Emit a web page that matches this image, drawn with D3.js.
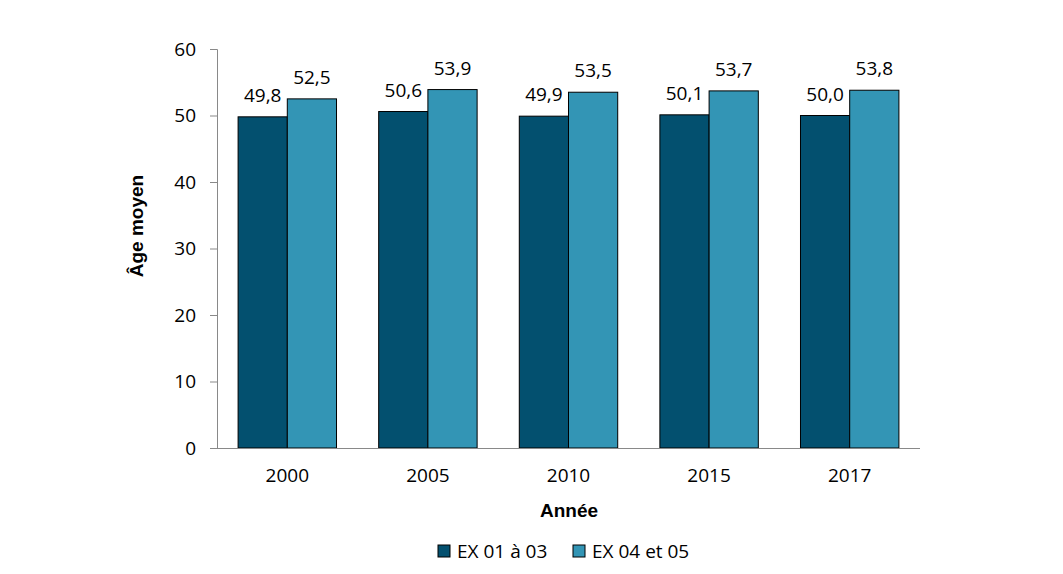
<!DOCTYPE html>
<html>
<head>
<meta charset="utf-8">
<script src="https://cdn.jsdelivr.net/npm/d3@7"></script>
<style>
  body { margin: 0; background: #fff; }
  text { font-family: "Open Sans", sans-serif; }
</style>
</head>
<body>
<svg id="vis"></svg>
<script>
// data
const years = ["2000", "2005", "2010", "2015", "2017"];
const seriesNames = ["EX 01 à 03", "EX 04 et 05"];
const ex0103 = [49.8, 50.6, 49.9, 50.1, 50.0];
const ex0405 = [52.5, 53.9, 53.5, 53.7, 53.8];
const yTicks = [0, 10, 20, 30, 40, 50, 60];
const colors = ["#03506f", "#3395b5"];

const width = 1063, height = 574;
const margin = {left: 217, right: 143, top: 49, bottom: 126};
const fs = "19px";

const svg = d3.select("#vis")
  .attr("width", width)
  .attr("height", height);

const x = d3.scaleBand()
  .domain(years)
  .range([margin.left, width - margin.right])
  .paddingInner(0.3)
  .paddingOuter(0.15);

const x1 = d3.scaleBand()
  .domain(seriesNames)
  .range([0, x.bandwidth()]);

const y = d3.scaleLinear()
  .domain([0, 60])
  .range([height - margin.bottom, margin.top]);

const rows = years.map((yr, i) => ({year: yr, values: [ex0103[i], ex0405[i]]}));

// y axis
const yAxis = svg.append("g")
  .attr("transform", `translate(${margin.left},0)`)
  .call(d3.axisLeft(y).tickValues(yTicks).tickSize(7).tickPadding(14));
yAxis.select(".domain").attr("stroke", "#898989");
yAxis.selectAll(".tick line").attr("stroke", "#898989");
yAxis.selectAll(".tick text")
  .style("font-size", fs)
  .attr("fill", "#000");

// bars
const groups = svg.selectAll(".grp")
  .data(rows)
  .join("g")
  .attr("class", "grp")
  .attr("transform", d => `translate(${x(d.year)},0)`);

groups.selectAll("rect")
  .data(d => d.values.map((v, k) => ({name: seriesNames[k], v: v, k: k})))
  .join("rect")
  .attr("x", d => x1(d.name))
  .attr("y", d => y(d.v))
  .attr("width", x1.bandwidth())
  .attr("height", d => y(0) - y(d.v))
  .attr("fill", d => colors[d.k])
  .attr("stroke", "#000")
  .attr("stroke-width", 1);

groups.selectAll(".lbl")
  .data(d => d.values.map((v, k) => ({name: seriesNames[k], v: v})))
  .join("text")
  .attr("class", "lbl")
  .attr("x", d => x1(d.name) + x1.bandwidth() / 2)
  .attr("y", d => y(d.v) - 15)
  .attr("text-anchor", "middle")
  .style("font-size", fs)
  .text(d => d.v.toFixed(1).replace(".", ","));

// x axis
const xAxis = svg.append("g")
  .attr("transform", `translate(0,${y(0)})`)
  .call(d3.axisBottom(x).tickSize(0).tickPadding(21));
xAxis.select(".domain").attr("stroke", "#898989").attr("d", `M${margin.left},0.5H${width - margin.right}`);
xAxis.selectAll(".tick text")
  .style("font-size", fs)
  .attr("fill", "#000");

// axis titles
svg.append("text")
  .attr("x", 569)
  .attr("y", 517)
  .attr("text-anchor", "middle")
  .style("font-family", "'Liberation Sans', Arial, sans-serif")
  .style("font-size", fs)
  .style("font-weight", "bold")
  .text("Année");

svg.append("text")
  .attr("transform", "translate(143,226) rotate(-90)")
  .attr("text-anchor", "middle")
  .style("font-family", "'Liberation Sans', Arial, sans-serif")
  .style("font-size", fs)
  .style("font-weight", "bold")
  .text("Âge moyen");

// legend
const legendX = [438, 573];
const legend = svg.selectAll(".leg")
  .data(seriesNames)
  .join("g")
  .attr("class", "leg")
  .attr("transform", (d, i) => `translate(${legendX[i]},545)`);
legend.append("rect")
  .attr("width", 12).attr("height", 12)
  .attr("fill", (d, i) => colors[i])
  .attr("stroke", "#000");
legend.append("text")
  .attr("x", 19).attr("y", 13)
  .style("font-size", fs)
  .text(d => d);
</script>
</body>
</html>
